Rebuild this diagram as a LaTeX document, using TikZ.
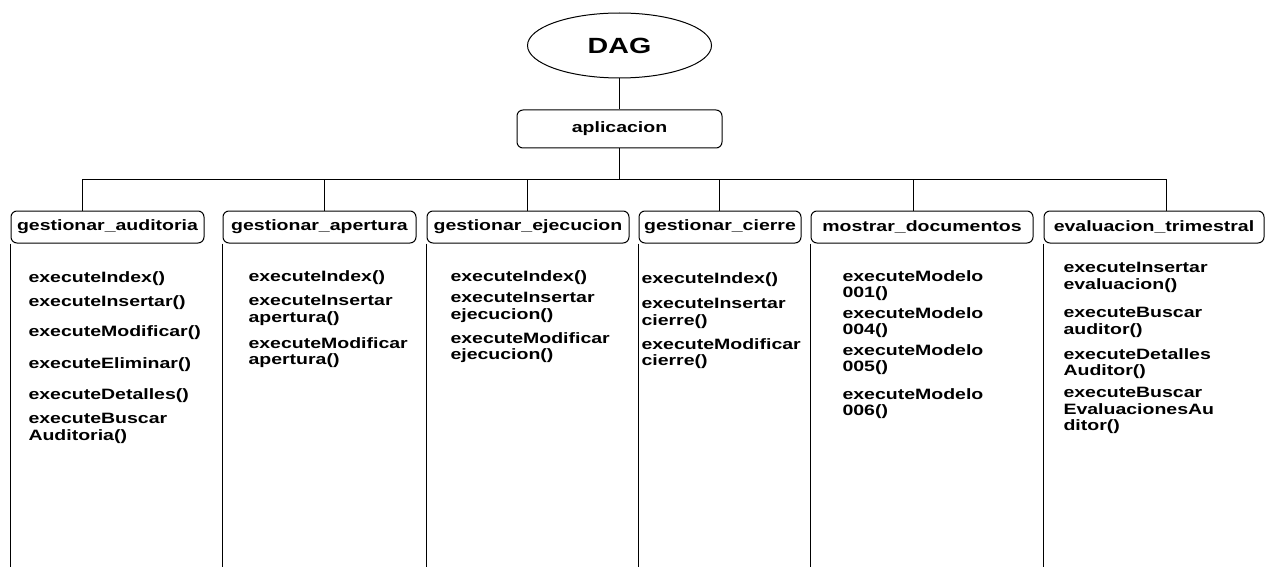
\documentclass[tikz,border=0pt]{standalone}
\usepackage{fontspec}
\newfontfamily\diafont[FakeStretch=1.3]{Liberation Sans}
\usetikzlibrary{shapes.geometric}

\begin{document}
\begin{tikzpicture}[x=1pt, y=-1pt, line width=1pt,
  raiz/.style={draw, ellipse, minimum width=184pt, minimum height=65pt,
               inner sep=0pt, font=\diafont\bfseries\fontsize{22}{24}\selectfont},
  caja/.style={draw, rounded corners=6pt, minimum height=32pt, inner sep=0pt,
               font=\diafont\bfseries\fontsize{15}{16.5}\selectfont},
  metodo/.style={anchor=north west, inner sep=0pt, align=left,
                 font=\diafont\bfseries\fontsize{15}{16.5}\selectfont}]
  \useasboundingbox (0,0) rectangle (1266,567);
  % raiz y aplicacion
  \node[raiz] (dag) at (619.5,45.5) {DAG};
  \node[caja, minimum width=205pt, minimum height=38pt] (app) at (619.5,129) {aplicacion};
  \coordinate (bus) at (619.5,179);
  \coordinate (fondo) at (0,567);
  \draw (dag) -- (app);
  \draw (app) -- (bus);
  % modulos
  \node[caja, minimum width=193pt] (h1) at (107.5,227) {gestionar\_auditoria};
  \node[caja, minimum width=193pt] (h2) at (319.5,227) {gestionar\_apertura};
  \node[caja, minimum width=202pt] (h3) at (528,227) {gestionar\_ejecucion};
  \node[caja, minimum width=162pt] (h4) at (720,227) {gestionar\_cierre};
  \node[caja, minimum width=222pt] (h5) at (922,227) {mostrar\_documentos};
  \node[caja, minimum width=220pt] (h6) at (1154,227) {evaluacion\_trimestral};
  \foreach \h/\dx in {h1/-25.5, h2/4.5, h3/-1, h4/-1, h5/-9, h6/12} {
    \draw ([xshift=\dx pt]\h.north) |- (bus);
    \draw (\h.south west) -- (\h.south west |- fondo);
  }
  % metodos de cada modulo
  \foreach \y/\t [count=\i] in {271/executeIndex(), 295/executeInsertar(),
      325/executeModificar(), 357/executeEliminar(), 388/executeDetalles(),
      413/{executeBuscar\\Auditoria()}}
    \node[metodo] (a\i) at (28,\y) {\t};
  \foreach \y/\t [count=\i] in {270/executeIndex(),
      295/{executeInsertar\\apertura()}, 337/{executeModificar\\apertura()}}
    \node[metodo] (b\i) at (248,\y) {\t};
  \foreach \y/\t [count=\i] in {270/executeIndex(),
      292/{executeInsertar\\ejecucion()}, 332/{executeModificar\\ejecucion()}}
    \node[metodo] (c\i) at (450,\y) {\t};
  \foreach \y/\t [count=\i] in {272/executeIndex(),
      298/{executeInsertar\\cierre()}, 338/{executeModificar\\cierre()}}
    \node[metodo] (d\i) at (641,\y) {\t};
  \foreach \y/\t [count=\i] in {270/{executeModelo\\001()},
      307/{executeModelo\\004()}, 344/{executeModelo\\005()},
      388/{executeModelo\\006()}}
    \node[metodo] (e\i) at (842,\y) {\t};
  \foreach \y/\t [count=\i] in {262/{executeInsertar\\evaluacion()},
      307/{executeBuscar\\auditor()}, 348/{executeDetalles\\Auditor()},
      387/{executeBuscar\\EvaluacionesAu\\ditor()}}
    \node[metodo] (f\i) at (1063,\y) {\t};
\end{tikzpicture}
\end{document}
